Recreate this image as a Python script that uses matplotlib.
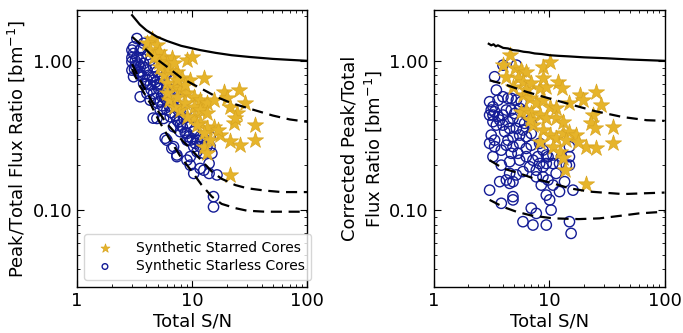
import matplotlib
matplotlib.use('Agg')
import matplotlib.pyplot as plt
from matplotlib.ticker import FormatStrFormatter, FixedLocator

# ---- left panel: synthetic starless cores (Total S/N, peak/total ratio)
starless_sn = [3.30, 3.09, 2.99, 3.09, 3.53, 2.99, 3.30, 3.78, 2.99, 3.53, 3.78, 4.04, 4.31, 4.61, 4.93,
               5.27, 4.61, 4.04, 3.53, 3.09, 3.78, 4.31, 4.93, 5.63, 6.02, 6.02, 6.88, 4.04, 4.61, 5.63,
               6.44, 7.35, 6.88, 6.02, 5.27, 4.31, 5.27, 6.02, 6.88, 7.87, 7.87, 8.99, 4.93, 5.63, 6.44,
               7.35, 8.41, 6.88, 7.87, 8.99, 9.61, 7.87, 9.00, 10.3, 9.61, 11.0, 11.7, 12.6, 14.3, 11.7,
               13.4, 10.3, 8.99, 14.3, 14.8, 12.6, 11.0, 6.02, 6.88, 7.35, 7.35, 9.61, 9.61, 8.99, 12.6,
               11.7, 14.0, 10.3, 14.0, 16.4, 15.3, 15.3,
               3.2, 3.4, 3.6, 3.9, 4.2, 4.5, 4.8, 5.1, 5.4, 5.8, 6.3, 6.6, 7.1, 7.6, 8.2, 8.7, 9.3, 10.0,
               10.6, 3.2, 3.5, 3.7, 4.0, 4.4, 4.7, 5.0, 5.5, 5.9, 5.3, 3.6, 4.1, 2.99, 3.15, 3.4,
               4.58, 5.82, 6.65, 3.53]
starless_ratio = [1.41, 1.24, 1.18, 1.12, 1.18, 0.986, 1.06, 1.31, 0.866, 0.912, 0.96, 0.866, 1.01, 0.912, 0.845,
                  0.762, 0.743, 0.743, 0.802, 0.782, 0.706, 0.688, 0.688, 0.743, 0.823, 0.670, 0.743, 0.605, 0.605, 0.605,
                  0.589, 0.637, 0.545, 0.545, 0.532, 0.545, 0.468, 0.468, 0.492, 0.545, 0.468, 0.468, 0.411, 0.411, 0.422,
                  0.401, 0.411, 0.362, 0.371, 0.381, 0.362, 0.335, 0.326, 0.335, 0.294, 0.294, 0.310, 0.302, 0.310, 0.266,
                  0.266, 0.266, 0.294, 0.266, 0.240, 0.240, 0.246, 0.294, 0.266, 0.234, 0.228, 0.228, 0.200, 0.216, 0.185,
                  0.190, 0.205, 0.176, 0.176, 0.172, 0.123, 0.105,
                  1.00, 0.95, 1.05, 0.90, 0.80, 0.78, 0.72, 0.65, 0.58, 0.56, 0.50, 0.45, 0.43, 0.39, 0.36, 0.33, 0.31, 0.30,
                  0.28, 0.93, 0.85, 0.78, 0.70, 0.64, 0.56, 0.52, 0.50, 0.62, 0.70, 1.20, 1.10, 1.05, 0.88, 0.83,
                  0.413, 0.303, 0.259, 0.574]

# ---- left panel: synthetic starred cores
starred_sn = [4.46, 4.04, 4.93, 4.31, 5.10, 5.63, 6.66, 6.02, 8.99, 9.95, 5.10, 6.23, 7.35, 8.13, 9.61,
              12.6, 5.63, 6.02, 6.88, 7.87, 8.99, 10.3, 11.7, 12.6, 13.4, 15.3, 18.7, 25.3, 20.0, 28.9,
              21.4, 24.4, 22.9, 23.6, 35.3, 35.3, 21.4, 26.1, 17.5, 15.3, 13.4, 11.7, 10.3, 8.99, 7.87,
              6.88, 6.23, 7.35, 8.7, 10.3, 11.7, 13.4, 11.0, 12.6, 14.3, 12.6, 13.4, 16.9, 21.4, 8.7,
              7.35, 6.88, 5.27, 4.61, 6.02]
starred_ratio = [1.41, 1.31, 1.27, 1.18, 1.15, 1.06, 1.04, 0.96, 1.01, 1.06, 0.986, 0.866, 0.845, 0.762, 0.743,
                 0.762, 0.802, 0.706, 0.670, 0.637, 0.605, 0.574, 0.545, 0.492, 0.518, 0.545, 0.62, 0.637, 0.56, 0.518,
                 0.492, 0.444, 0.381, 0.411, 0.371, 0.294, 0.288, 0.272, 0.318, 0.362, 0.352, 0.381, 0.422, 0.422, 0.468,
                 0.492, 0.545, 0.574, 0.518, 0.492, 0.468, 0.444, 0.371, 0.326, 0.294, 0.266, 0.240, 0.344, 0.171, 0.688,
                 0.743, 0.96, 0.912, 1.06, 0.605]

# ---- right panel: corrected ratios
starless_sn_c = [3.98, 5.20, 3.37, 3.49, 3.05, 3.26, 3.61, 3.98, 4.40, 4.70, 5.20, 5.74, 3.05, 3.15, 3.37,
                 3.26, 3.61, 3.98, 4.26, 4.70, 5.03, 5.55, 6.13, 6.56, 3.73, 3.26, 3.49, 3.98, 4.40, 4.86,
                 5.55, 6.13, 7.0, 4.12, 4.55, 5.20, 5.93, 4.86, 5.55, 6.34, 7.0, 3.15, 3.37, 3.05, 3.37,
                 3.26, 3.85, 4.26, 4.86, 4.40, 5.55, 6.34, 7.0, 8.27, 8.84, 9.45, 5.37, 4.70, 4.55, 5.55,
                 6.34, 7.24, 8.0, 8.27, 9.45, 9.78, 10.8, 12.3, 12.8, 15.0, 15.0, 15.0, 14.1, 10.8, 11.5,
                 8.84, 6.78, 7.74, 5.93, 5.20, 3.85, 4.55, 4.26, 4.55, 4.86, 7.74, 8.84, 9.78, 10.8, 8.55,
                 12.3, 13.6, 16.1, 3.73, 3.05, 9.45, 10.1, 4.86, 4.86, 3.85, 7.0, 7.74, 10.4, 5.93, 7.24,
                 9.45, 15.0, 15.5]
starless_ratio_c = [0.935, 0.935, 0.782, 0.637, 0.532, 0.492, 0.545, 0.574, 0.56, 0.56, 0.545, 0.532, 0.433, 0.468, 0.456,
                    0.433, 0.422, 0.433, 0.468, 0.468, 0.444, 0.48, 0.456, 0.422, 0.401, 0.391, 0.371, 0.371, 0.391, 0.411,
                    0.391, 0.381, 0.381, 0.335, 0.352, 0.352, 0.344, 0.310, 0.318, 0.310, 0.326, 0.318, 0.294, 0.280, 0.266,
                    0.228, 0.252, 0.272, 0.266, 0.294, 0.280, 0.259, 0.272, 0.280, 0.252, 0.234, 0.240, 0.240, 0.211, 0.216,
                    0.228, 0.216, 0.228, 0.205, 0.205, 0.228, 0.205, 0.205, 0.228, 0.266, 0.228, 0.200, 0.200, 0.234, 0.176,
                    0.195, 0.195, 0.185, 0.181, 0.172, 0.200, 0.176, 0.159, 0.151, 0.155, 0.167, 0.167, 0.159, 0.147, 0.147,
                    0.133, 0.155, 0.136, 0.155, 0.136, 0.126, 0.117, 0.123, 0.117, 0.111, 0.103, 0.095, 0.100, 0.0836, 0.0794,
                    0.0794, 0.0836, 0.0698]

starred_sn_c = [4.55, 3.98, 4.26, 5.03, 5.74, 6.34, 8.84, 10.1, 5.37, 5.93, 7.0, 8.27, 9.45, 11.9, 12.8,
                18.4, 25.6, 19.6, 28.2, 15.0, 5.93, 6.78, 7.74, 8.84, 10.1, 11.5, 5.74, 6.34, 7.0, 8.27,
                9.45, 11.5, 13.2, 24.0, 23.2, 24.8, 35.7, 35.7, 21.0, 25.6, 7.24, 8.84, 10.1, 11.5, 13.2,
                15.0, 17.2, 14.1, 17.8, 8.27, 10.8, 12.3, 13.2, 13.6, 6.78, 21.0, 6.34, 8.84, 4.86]
starred_ratio_c = [1.09, 0.935, 0.782, 0.889, 0.866, 0.845, 0.912, 0.986, 0.762, 0.724, 0.706, 0.653, 0.67, 0.724, 0.653,
                   0.589, 0.62, 0.545, 0.505, 0.518, 0.589, 0.56, 0.518, 0.545, 0.492, 0.48, 0.456, 0.468, 0.444, 0.433,
                   0.411, 0.411, 0.391, 0.433, 0.381, 0.352, 0.362, 0.280, 0.266, 0.259, 0.371, 0.344, 0.318, 0.302, 0.326,
                   0.335, 0.318, 0.294, 0.287, 0.287, 0.266, 0.246, 0.222, 0.185, 0.401, 0.149, 0.637, 0.762, 0.67]

# ---- reference curves (left)
solid_x = [3.0, 3.5, 4.0, 4.93, 6.0, 8.0, 11.7, 16.0, 22.0, 31.9, 50.0, 70.0, 100.0]
solid_y = [2.02, 1.75, 1.60, 1.45, 1.36, 1.26, 1.18, 1.13, 1.09, 1.06, 1.03, 1.015, 1.0]
dash1_x = [3.0, 3.75, 4.5, 6.06, 8.0, 10.0, 13.0, 16.5, 22.0, 33.9, 50.0, 70.0, 100.0]
dash1_y = [1.45, 1.24, 1.08, 0.91, 0.77, 0.70, 0.63, 0.57, 0.52, 0.47, 0.43, 0.405, 0.39]
dash2_x = [3.0, 3.5, 4.0, 4.77, 6.0, 8.13, 10.0, 14.8, 18.0, 23.7, 30.0, 43.1, 60.0, 100.0]
dash2_y = [0.95, 0.75, 0.62, 0.49, 0.38, 0.294, 0.25, 0.181, 0.162, 0.147, 0.14, 0.135, 0.132, 0.132]
dash3_x = [3.0, 3.5, 4.31, 5.1, 6.5, 8.0, 9.94, 12.0, 14.8, 18.0, 23.7, 30.0, 43.1, 100.0]
dash3_y = [0.88, 0.68, 0.52, 0.40, 0.29, 0.225, 0.181, 0.148, 0.123, 0.11, 0.103, 0.099, 0.0975, 0.0975]

# ---- reference curves (right, corrected)
solid_x_c = [3.0, 3.15, 3.3, 3.45, 3.6, 4.0, 4.4, 4.86, 5.4, 6.0, 6.7, 7.5, 8.6, 10.1, 12.0, 15.0, 20.0, 31.3, 50.0, 100.0]
solid_y_c = [1.30, 1.27, 1.29, 1.25, 1.27, 1.22, 1.21, 1.18, 1.17, 1.15, 1.14, 1.12, 1.11, 1.09, 1.08, 1.07, 1.055, 1.04, 1.02, 1.0]
dash1_x_c = [3.05, 4.0, 6.35, 10.0, 16.1, 25.0, 43.5, 70.0, 100.0]
dash1_y_c = [0.74, 0.70, 0.62, 0.56, 0.505, 0.46, 0.42, 0.40, 0.396]
dash2_x_c = [3.05, 4.0, 5.55, 7.5, 10.8, 15.0, 22.3, 43.5, 100.0]
dash2_y_c = [0.216, 0.19, 0.176, 0.162, 0.151, 0.14, 0.133, 0.128, 0.131]
dash3_x_c = [3.05, 4.0, 5.2, 7.0, 10.8, 18.0, 27.3, 43.5, 60.0, 100.0]
dash3_y_c = [0.117, 0.105, 0.0975, 0.092, 0.088, 0.087, 0.088, 0.092, 0.095, 0.0975]

star_col = '#e6b42a'
circ_col = '#141c96'

fig = plt.figure(figsize=(6.83, 3.33), dpi=100)
ax1 = fig.add_axes([0.113, 0.138, 0.337, 0.832])
ax2 = fig.add_axes([0.635, 0.138, 0.338, 0.832])


def setup(ax):
    ax.set_xscale('log')
    ax.set_yscale('log')
    ax.set_xlim(1, 100)
    ax.set_ylim(0.0305, 2.19)
    ax.yaxis.set_major_locator(FixedLocator([0.1, 1.0]))
    ax.yaxis.set_major_formatter(FormatStrFormatter('%.2f'))
    ax.xaxis.set_major_formatter(FormatStrFormatter('%d'))
    ax.tick_params(which='both', direction='in', top=True, right=True, labelsize=13)
    ax.tick_params(which='major', length=5)
    ax.tick_params(which='minor', length=2.5)
    ax.set_xlabel('Total S/N', fontsize=13, labelpad=2)
    for s in ax.spines.values():
        s.set_linewidth(1.0)


def draw_curves(ax, curves):
    sx, sy, d1x, d1y, d2x, d2y, d3x, d3y = curves
    ax.plot(sx, sy, color='black', lw=1.6, zorder=4)
    for xx, yy in [(d1x, d1y), (d2x, d2y), (d3x, d3y)]:
        ax.plot(xx, yy, color='black', lw=1.6, dashes=(5, 3), zorder=4)


setup(ax1)
ax1.scatter(starless_sn, starless_ratio, s=55, facecolors='none', edgecolors=circ_col,
            linewidths=1.0, label='Synthetic Starless Cores', zorder=2)
ax1.scatter(starred_sn, starred_ratio, s=150, marker='*', color=star_col, edgecolors='#d9a520',
            linewidths=0.5, label='Synthetic Starred Cores', zorder=3)
draw_curves(ax1, [solid_x, solid_y, dash1_x, dash1_y, dash2_x, dash2_y, dash3_x, dash3_y])
ax1.set_ylabel('Peak/Total Flux Ratio [bm$^{-1}$]', fontsize=13)
handles, labels = ax1.get_legend_handles_labels()
ax1.legend(handles[::-1], labels[::-1], loc='lower left', fontsize=10, markerscale=0.55,
           handletextpad=1.2, borderpad=0.5, labelspacing=0.3)

setup(ax2)
ax2.scatter(starless_sn_c, starless_ratio_c, s=55, facecolors='none', edgecolors=circ_col,
            linewidths=1.0, zorder=2)
ax2.scatter(starred_sn_c, starred_ratio_c, s=150, marker='*', color=star_col, edgecolors='#d9a520',
            linewidths=0.5, zorder=3)
draw_curves(ax2, [solid_x_c, solid_y_c, dash1_x_c, dash1_y_c, dash2_x_c, dash2_y_c, dash3_x_c, dash3_y_c])
ax2.set_ylabel('Corrected Peak/Total\nFlux Ratio [bm$^{-1}$]', fontsize=13)

fig.savefig('out.png', dpi=100)
